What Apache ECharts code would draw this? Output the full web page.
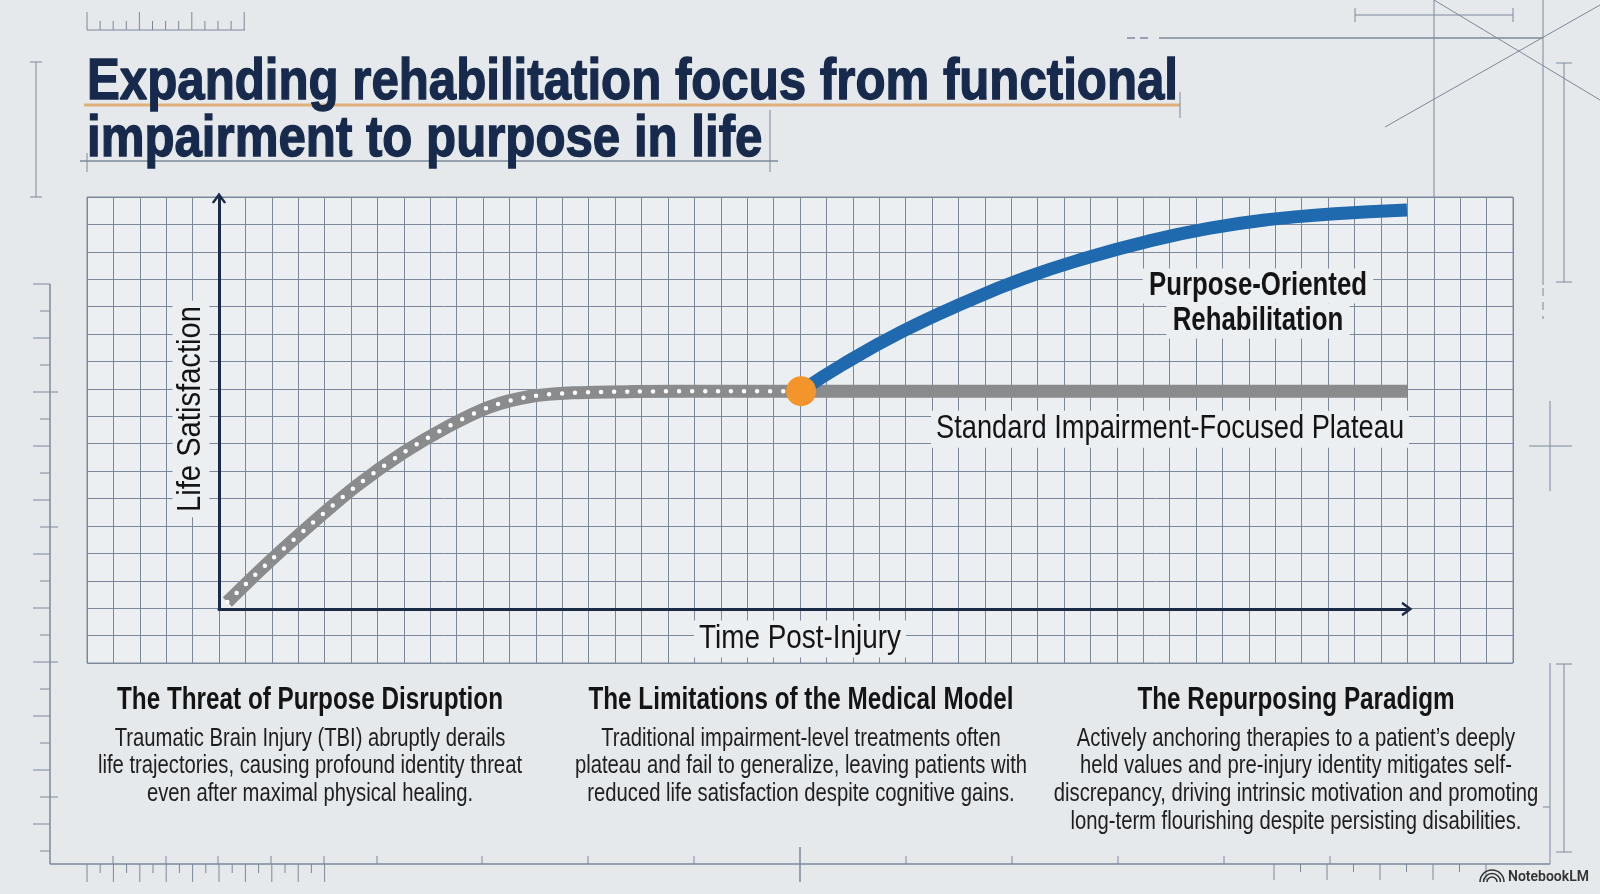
<!DOCTYPE html>
<html>
<head>
<meta charset="utf-8">
<script src="https://cdn.jsdelivr.net/npm/echarts@6/dist/echarts.min.js"></script>
<style>
  html, body { margin: 0; padding: 0; background: #e6e9ec; }
  #main { width: 1600px; height: 894px; }
</style>
</head>
<body>
<div id="main"></div>
<script>
// values: time post-injury and life satisfaction, both 0-100
const rampTime = [0.7, 4.0, 7.9, 11.6, 15.5, 19.2, 22.8, 26.2, 29.8, 35, 42, 49];
const rampSatisfaction = [1.7, 10.9, 21.0, 30.0, 38.0, 44.3, 49.2, 51.7, 52.6, 52.9, 53, 53];
const plateauTime = [49, 100];
const plateauSatisfaction = [53, 53];
const purposeTime = [49, 52.4, 57.5, 62.7, 67.8, 73.0, 78.1, 83.3, 88.5, 93.6, 100];
const purposeSatisfaction = [53, 59.3, 67.5, 74.5, 80.5, 85.4, 89.4, 92.6, 94.8, 96.1, 97.1];
const pivotTime = [49];
const pivotSatisfaction = [53];

const titleLines = ['Expanding rehabilitation focus from functional', 'impairment to purpose in life'];
const axisNames = ['Time Post-Injury', 'Life Satisfaction'];
const seriesNames = ['Standard Impairment-Focused Plateau', ['Purpose-Oriented', 'Rehabilitation']];
const columnHeads = ['The Threat of Purpose Disruption', 'The Limitations of the Medical Model', 'The Repurposing Paradigm'];
const columnBodies = [
  ['Traumatic Brain Injury (TBI) abruptly derails', 'life trajectories, causing profound identity threat', 'even after maximal physical healing.'],
  ['Traditional impairment-level treatments often', 'plateau and fail to generalize, leaving patients with', 'reduced life satisfaction despite cognitive gains.'],
  ['Actively anchoring therapies to a patient\u2019s deeply', 'held values and pre-injury identity mitigates self-', 'discrepancy, driving intrinsic motivation and promoting', 'long-term flourishing despite persisting disabilities.']
];

const FACE = '"Liberation Sans", Arial, Helvetica, sans-serif';
const INK = '#141414';
const PAPER = '#eceff2';
const LINE = '#7c889a';

const zip = (xs, ys) => xs.map((x, i) => [x, ys[i]]);
const standardData = zip(rampTime, rampSatisfaction).concat(zip(plateauTime, plateauSatisfaction).slice(1));

const chevron = 'path://M0,11 L8,0 L16,11 L13.6,12.2 L8,4.6 L2.4,12.2 Z';

// condensed look: squeeze a regular face horizontally to the width seen in the picture
const measure = document.createElement('canvas').getContext('2d');
function squeeze(sample, font, width) {
  measure.font = font;
  return width / measure.measureText(sample).width;
}
const F_TITLE = 'bold 58px ' + FACE;
const F_HEAD = 'bold 31px ' + FACE;
const F_BODY = '25px ' + FACE;
const F_LABEL = '33px ' + FACE;
const F_LABEL_B = 'bold 33px ' + FACE;
const sTitle = squeeze(titleLines[0], F_TITLE, 1091);
const sHead = squeeze(columnHeads[0], F_HEAD, 386);
const sBody = squeeze(columnBodies[0][1], F_BODY, 424);
const sLabel = squeeze(seriesNames[0], F_LABEL, 468);
const sTime = squeeze(axisNames[0], F_LABEL, 202);
const sLife = squeeze(axisNames[1], F_LABEL, 206);
const sLabelB = squeeze(seriesNames[1][0], F_LABEL_B, 218);

function txt(text, x, y, font, scale, opts) {
  opts = opts || {};
  const style = { text, x: 0, y: 0, font, fill: opts.fill || INK, align: opts.align || 'center', verticalAlign: 'middle' };
  if (opts.box) { style.backgroundColor = PAPER; style.padding = opts.box; }
  if (opts.heavy) { style.stroke = style.fill; style.lineWidth = opts.heavy; }
  return { type: 'text', silent: true, x, y, scaleX: scale, rotation: opts.rotation || 0, z: 10, style };
}

// blueprint decorations
const deco = [];
function seg(x1, y1, x2, y2, w, dash) {
  deco.push({ type: 'line', silent: true, shape: { x1, y1, x2, y2 },
    style: { stroke: LINE, lineWidth: w || 1, lineDash: dash || null } });
}
seg(87, 30, 245, 30);
for (let i = 0; i <= 12; i++) {
  const x = 87 + i * 13.1;
  seg(x, (i % 4 === 0 || i === 12) ? 12 : 21, x, 30);
}
seg(36, 62, 36, 197); seg(30, 62, 42, 62); seg(30, 197, 42, 197);
deco.push({ type: 'line', silent: true, shape: { x1: 84, y1: 105, x2: 1180, y2: 105 }, style: { stroke: '#dfb07c', lineWidth: 3 } });
seg(1180, 92, 1180, 118);
seg(80, 161, 778, 161, 1.5);
seg(87, 153, 87, 172); seg(770, 110, 770, 172);
seg(1355, 15, 1513, 15); seg(1355, 8, 1355, 22); seg(1513, 8, 1513, 22);
seg(1127, 38, 1153, 38, 1.5, [8, 5]); seg(1159, 38, 1543, 38, 1.5);
seg(1434, 0, 1434, 197);
seg(1543, 0, 1543, 285); seg(1543, 288, 1543, 319, 1, [8, 6]);
seg(1434, 0, 1600, 100); seg(1385, 127, 1600, 5);
seg(1564, 63, 1564, 282); seg(1556, 63, 1572, 63); seg(1556, 282, 1572, 282);
seg(1529, 446, 1572, 446); seg(1550, 401, 1550, 491);
seg(1550, 663, 1550, 864); seg(1564, 664, 1564, 852); seg(1556, 664, 1572, 664); seg(1556, 852, 1572, 852);
seg(1543, 807, 1550, 807);
seg(50, 284, 50, 864, 1.5);
for (let i = 0; i <= 21; i++) {
  const y = 284 + i * 27;
  seg(i % 2 === 0 ? 33 : 40, y, (i % 5 === 4) ? 58 : 50, y);
}
seg(50, 864, 1550, 864, 1.5);
for (let i = 0; i <= 18; i++) {
  const x = 87 + i * 13.2;
  seg(x, 864, x, i % 2 === 0 ? 882 : 873);
}
[113, 166, 218, 271, 324, 377, 482, 588, 694, 906, 1012, 1118, 1224, 1330].forEach(x => seg(x, 856, x, 864));
seg(800, 847, 800, 882, 1.5);
for (let i = 0; i <= 8; i++) {
  const x = 1274 + i * 26.5;
  seg(x, 864, x, i % 2 === 0 ? 880 : 872);
}
[5, 8.5, 12].forEach(r => deco.push({ type: 'arc', silent: true, shape: { cx: 1492, cy: 882, r, startAngle: Math.PI, endAngle: Math.PI * 2 },
  style: { stroke: '#333', lineWidth: 1.6, fill: null } }));

const chart = echarts.init(document.getElementById('main'));
chart.setOption({
  animation: false,
  backgroundColor: '#e6e9ec',
  grid: [
    { left: 87, top: 197, width: 1426, height: 466, show: true, backgroundColor: PAPER, borderColor: LINE, borderWidth: 1 },
    { left: 219, top: 198, width: 1188, height: 411 }
  ],
  xAxis: [
    { gridIndex: 0, type: 'value', min: 0, max: 54, interval: 1,
      axisLine: { show: false }, axisTick: { show: false }, axisLabel: { show: false },
      splitLine: { lineStyle: { color: LINE, width: 1 } } },
    { gridIndex: 1, type: 'value', min: 0, max: 100,
      axisLine: { show: true, onZero: false, symbol: ['none', chevron], symbolSize: [16, 11], lineStyle: { color: '#1b2a45', width: 3 } },
      axisTick: { show: false }, axisLabel: { show: false }, splitLine: { show: false } }
  ],
  yAxis: [
    { gridIndex: 0, type: 'value', min: 0, max: 17, interval: 1,
      axisLine: { show: false }, axisTick: { show: false }, axisLabel: { show: false },
      splitLine: { lineStyle: { color: LINE, width: 1 } } },
    { gridIndex: 1, type: 'value', min: 0, max: 100,
      axisLine: { show: true, onZero: false, symbol: ['none', chevron], symbolSize: [16, 11], lineStyle: { color: '#1b2a45', width: 3 } },
      axisTick: { show: false }, axisLabel: { show: false }, splitLine: { show: false } }
  ],
  series: [
    { type: 'line', name: 'standard', xAxisIndex: 1, yAxisIndex: 1, data: standardData,
      smooth: 0.3, symbol: 'none', lineStyle: { color: '#8a8b8d', width: 13, cap: 'butt' }, z: 3 },
    { type: 'line', name: 'ramp dots', xAxisIndex: 1, yAxisIndex: 1, data: zip(rampTime, rampSatisfaction),
      smooth: 0.3, symbol: 'none', lineStyle: { color: '#ffffff', width: 4.5, type: [0, 13], cap: 'round' }, z: 4 },
    { type: 'line', name: 'purpose', xAxisIndex: 1, yAxisIndex: 1, data: zip(purposeTime, purposeSatisfaction),
      smooth: 0.5, symbol: 'none', lineStyle: { color: '#1f69af', width: 13, cap: 'butt' }, z: 5 },
    { type: 'scatter', name: 'pivot', xAxisIndex: 1, yAxisIndex: 1, data: zip(pivotTime, pivotSatisfaction),
      symbolSize: 30, itemStyle: { color: '#f3952a', opacity: 1 }, z: 6 }
  ]
});

// labels placed from the series ends
const toPx = p => chart.convertToPixel({ gridIndex: 1 }, p);
const plateauEnd = toPx([plateauTime[1], plateauSatisfaction[1]]);
const purposeEnd = toPx([purposeTime[purposeTime.length - 1], purposeSatisfaction[purposeSatisfaction.length - 1]]);
const origin = toPx([0, 0]);

const texts = [];
titleLines.forEach((t, i) => texts.push(txt(t, 87, 83 + i * 57, F_TITLE, sTitle, { align: 'left', fill: '#172a4b', heavy: 1.4 })));
const colX = [310, 801, 1296];
columnHeads.forEach((t, i) => {
  texts.push(txt(t, colX[i], 700, F_HEAD, sHead));
  columnBodies[i].forEach((line, j) => texts.push(txt(line, colX[i], 739 + j * 27.6, F_BODY, sBody, { fill: '#1e1e1e' })));
});
texts.push(txt(seriesNames[0], plateauEnd[0] + 2, plateauEnd[1] + 38, F_LABEL, sLabel, { align: 'right', box: [2, 6] }));
seriesNames[1].forEach((t, i) => texts.push(txt(t, purposeEnd[0] - 149, purposeEnd[1] + 76 + i * 35, F_LABEL_B, sLabelB, { box: [1, 8] })));
texts.push(txt(axisNames[0], 800, origin[1] + 30, F_LABEL, sTime, { box: [2, 6] }));
texts.push(txt(axisNames[1], origin[0] - 28, 409, F_LABEL, sLife, { rotation: Math.PI / 2, box: [2, 6] }));
texts.push(txt('NotebookLM', 1589, 877, '600 14px Roboto, sans-serif', 1, { align: 'right', fill: '#333' }));

chart.setOption({ graphic: { elements: deco.concat(texts) } });
</script>
</body>
</html>
